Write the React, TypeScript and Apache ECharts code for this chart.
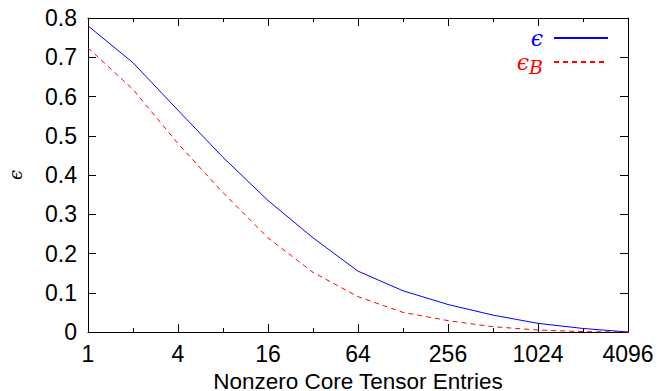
import React, { useEffect, useRef } from "react";
import * as echarts from "echarts";

const entries = [1, 2, 4, 8, 16, 32, 64, 128, 256, 512, 1024, 2048, 4096];
const epsValues = [0.78, 0.686, 0.565, 0.445, 0.335, 0.24, 0.155, 0.105, 0.07, 0.043, 0.022, 0.009, 0.0];
const epsBValues = [0.724, 0.618, 0.48, 0.355, 0.24, 0.152, 0.09, 0.05, 0.029, 0.0135, 0.005, 0.001, 0.0];
const seriesNames = ["ϵ", "ϵB"];
const xTitle = "Nonzero Core Tensor Entries";
const yTitle = "ϵ";

const SANS = "Liberation Sans";
const MATH = "DejaVu Serif";
const FS = 23;

export default function App() {
  const ref = useRef<HTMLDivElement>(null);
  useEffect(() => {
    document.body.style.margin = "0";
    const chart = echarts.init(ref.current!, null, { renderer: "svg" });
    const minorX = (position: string, show: boolean) => ({
      type: "log",
      logBase: 2,
      min: 1,
      max: 4096,
      interval: 1,
      position,
      axisLine: { show, lineStyle: { color: "#000", width: 1 } },
      axisTick: { show: true, inside: true, length: 4, lineStyle: { color: "#000" } },
      axisLabel: { show: false },
      splitLine: { show: false },
    });
    const majorX = (position: string, labels: boolean) => ({
      type: "log",
      logBase: 4,
      min: 1,
      max: 4096,
      interval: 1,
      position,
      axisLine: { show: false },
      axisTick: { show: true, inside: true, length: 8, lineStyle: { color: "#000" } },
      axisLabel: {
        show: labels,
        margin: 10,
        fontSize: FS,
        fontFamily: SANS,
        color: "#000",
        formatter: (v: number) => String(Math.round(v)),
      },
      splitLine: { show: false },
      ...(labels
        ? {
            name: xTitle,
            nameLocation: "middle",
            nameGap: 33,
            nameTextStyle: { fontSize: 22.5, lineHeight: 22, fontFamily: SANS, color: "#000" },
          }
        : {}),
    });
    const yAx = (position: string, labels: boolean) => ({
      type: "value",
      min: 0,
      max: 0.8,
      interval: 0.1,
      position,
      axisLine: { show: true, lineStyle: { color: "#000", width: 1 } },
      axisTick: { show: true, inside: true, length: 8, lineStyle: { color: "#000" } },
      axisLabel: {
        show: labels,
        margin: 11,
        fontSize: FS,
        fontFamily: SANS,
        color: "#000",
        formatter: (v: number) => (v === 0 ? "0" : v.toFixed(1)),
      },
      splitLine: { show: false },
      ...(labels
        ? {
            name: yTitle,
            nameLocation: "middle",
            nameRotate: 90,
            nameGap: 64,
            nameTextStyle: { fontSize: 18, fontFamily: MATH, fontStyle: "italic", color: "#000" },
          }
        : {}),
    });
    chart.setOption({
      animation: false,
      backgroundColor: "#fff",
      grid: { left: 88, right: 29, top: 18, bottom: 59, outerBoundsMode: "none", containLabel: false },
      xAxis: [minorX("bottom", true), majorX("bottom", true), minorX("top", true), majorX("top", false)],
      yAxis: [yAx("left", true), yAx("right", false)],
      legend: {
        orient: "vertical",
        right: 43,
        top: 22,
        align: "right",
        itemWidth: 54,
        itemHeight: 12,
        itemGap: -1,
        itemStyle: { opacity: 0 },
        data: [
          { name: seriesNames[0], textStyle: { color: "#0000ff" } },
          { name: seriesNames[1], textStyle: { color: "#ff0000" } },
        ],
        formatter: (name: string) => (name === seriesNames[1] ? "{e|ϵ}{s|B}" : "{p|ϵ}"),
        textStyle: {
          width: 40,
          align: "right",
          rich: {
            p: { fontSize: 22, fontFamily: MATH, fontStyle: "italic", lineHeight: 22, padding: [0, 6, 0, 0] },
            e: { fontSize: 22, fontFamily: MATH, fontStyle: "italic", lineHeight: 22 },
            s: { fontSize: 19, fontFamily: MATH, fontStyle: "italic", lineHeight: 22, padding: [9, 6, 0, 0] },
          },
        },
      },
      series: [
        {
          name: seriesNames[0],
          type: "line",
          xAxisIndex: 0,
          yAxisIndex: 0,
          symbol: "none",
          data: entries.map((x, i) => [x, epsValues[i]]),
          lineStyle: { color: "#0000ff", width: 1 },
          itemStyle: { color: "#0000ff" },
        },
        {
          name: seriesNames[1],
          type: "line",
          xAxisIndex: 0,
          yAxisIndex: 0,
          symbol: "none",
          data: entries.map((x, i) => [x, epsBValues[i]]),
          lineStyle: { color: "#ff0000", width: 1, type: [5, 4] },
          itemStyle: { color: "#ff0000" },
        },
      ],
    });
    return () => chart.dispose();
  }, []);
  return <div ref={ref} style={{ width: 657, height: 391 }} />;
}
